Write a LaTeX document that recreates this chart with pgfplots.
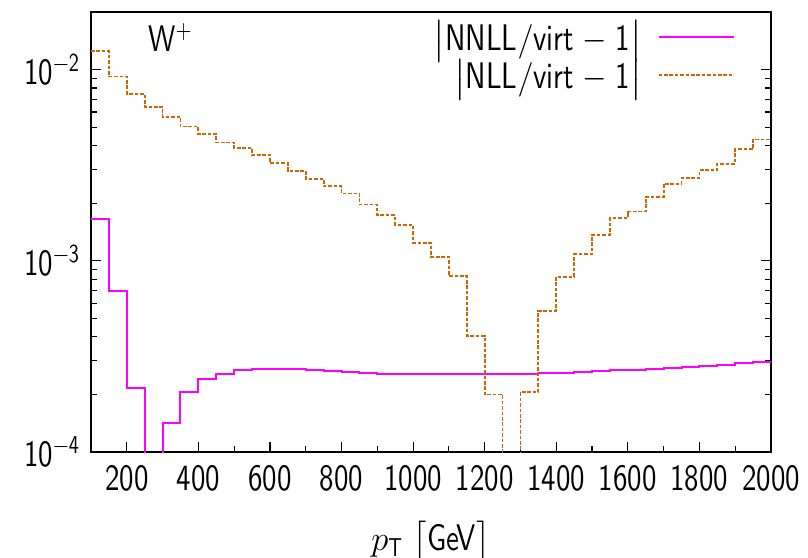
\documentclass[border=0pt]{standalone}
\usepackage{amsmath}
\usepackage{fontspec}
\setsansfont{lmsans10-regular.otf}[FakeStretch=0.78]
\usepackage{pgfplots}
\pgfplotsset{compat=1.18}
\definecolor{nllorange}{RGB}{204,102,0}
\definecolor{nnllmag}{RGB}{255,0,255}
\begin{document}
\begin{tikzpicture}
\begin{axis}[
  scale only axis,
  width=340pt, height=220pt,
  ymode=log,
  xmin=100, xmax=2000,
  ymin=1e-4, ymax=2e-2,
  axis line style={line width=0.6pt},
  tick align=inside,
  xtick pos=left,
  ytick pos=both,
  xtick={200,400,...,2000},
  xticklabels={200,400,600,800,1000,1200,1400,1600,1800,2000},
  minor xtick={300,500,...,1900},
  ytick={1e-4,1e-3,1e-2},
  yticklabels={10\textsuperscript{−4},10\textsuperscript{−3},10\textsuperscript{−2}},
  major tick length=5pt,
  minor tick length=3pt,
  every tick/.style={line width=0.6pt, black},
  tick label style={font=\fontsize{18.5}{20}\sffamily},
  xticklabel style={yshift=-3pt},
  yticklabel style={xshift=-2pt},
  xlabel={$p_{\text{T}}$ $\big[$GeV$\big]$},
  xlabel style={font=\fontsize{18.5}{20}\sffamily, yshift=-8pt},
  legend cell align=right,
  legend plot pos=right,
  legend style={draw=none, fill=none, at={(rel axis cs:0.947,0.99)}, anchor=north east,
    font=\fontsize{18.5}{22}\sffamily, row sep=-1pt, column sep=6pt, inner sep=0pt},
  legend image code/.code={\draw[#1] (0pt,0pt) -- (37.5pt,0pt);},
]
\addplot[const plot mark left, nnllmag, line width=1pt] coordinates {
(100,1.66e-3) (150,6.95e-4) (200,2.17e-4) (250,1e-5) (300,1.42e-4) (350,2.06e-4)
(400,2.40e-4) (450,2.57e-4) (500,2.67e-4) (550,2.71e-4) (600,2.72e-4) (650,2.71e-4)
(700,2.68e-4) (750,2.65e-4) (800,2.62e-4) (850,2.60e-4) (900,2.57e-4) (950,2.56e-4)
(1000,2.56e-4) (1050,2.55e-4) (1100,2.55e-4) (1150,2.55e-4) (1200,2.55e-4) (1250,2.56e-4)
(1300,2.57e-4) (1350,2.58e-4) (1400,2.60e-4) (1450,2.62e-4) (1500,2.65e-4) (1550,2.67e-4)
(1600,2.70e-4) (1650,2.72e-4) (1700,2.76e-4) (1750,2.79e-4) (1800,2.82e-4) (1850,2.86e-4)
(1900,2.91e-4) (1950,2.94e-4) (2000,2.94e-4)
};
\addlegendentry{$\big|$NNLL$/$virt − 1$\big|$}
\addplot[const plot mark left, nllorange, line width=0.9pt, dash pattern=on 1.8pt off 0.9pt] coordinates {
(100,1.25e-2) (150,9.2e-3) (200,7.46e-3) (250,6.39e-3) (300,5.67e-3) (350,5.04e-3)
(400,4.60e-3) (450,4.16e-3) (500,3.89e-3) (550,3.57e-3) (600,3.24e-3) (650,2.95e-3)
(700,2.68e-3) (750,2.45e-3) (800,2.25e-3) (850,1.97e-3) (900,1.73e-3) (950,1.54e-3)
(1000,1.24e-3) (1050,1.05e-3) (1100,8.32e-4) (1150,4.05e-4) (1200,2.0e-4) (1250,1e-5)
(1300,2.06e-4) (1350,5.47e-4) (1400,8.26e-4) (1450,1.08e-3) (1500,1.37e-3) (1550,1.67e-3)
(1600,1.81e-3) (1650,2.16e-3) (1700,2.52e-3) (1750,2.71e-3) (1800,2.97e-3) (1850,3.22e-3)
(1900,3.83e-3) (1950,4.31e-3) (2000,4.31e-3)
};
\addlegendentry{$\big|$NLL$/$virt − 1$\big|$}
\node[anchor=north west, font=\fontsize{18.5}{20}\sffamily, inner sep=0pt] at (rel axis cs:0.084,0.975) {W\textsuperscript{+}};
\end{axis}
\pgfresetboundingbox
\path ([shift={(-45.5pt,-52.5pt)}]current axis.south west) rectangle ([shift={(18.5pt,6pt)}]current axis.north east);
\end{tikzpicture}
\end{document}
